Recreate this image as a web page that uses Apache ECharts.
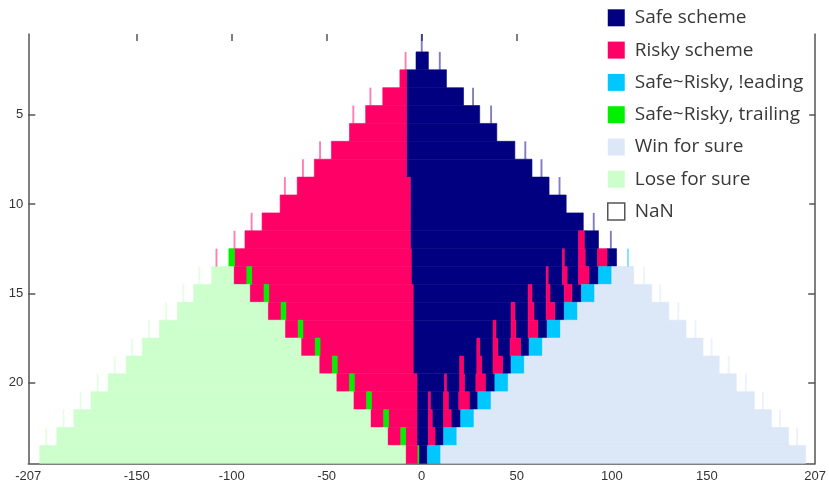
<!DOCTYPE html>
<html><head><meta charset="utf-8">
<script src="https://cdn.jsdelivr.net/npm/echarts@6/dist/echarts.min.js"></script>
<style>html,body{margin:0;padding:0;background:#fff}#c{width:829px;height:489px}</style>
</head><body><div id="c"></div>
<script>
// ---- categories / legend ----
const categories = ['Safe scheme', 'Risky scheme', 'Safe~Risky, !eading', 'Safe~Risky, trailing', 'Win for sure', 'Lose for sure', 'NaN'];
const colors = ['#000080', '#ff0066', '#00c8ff', '#00f000', '#dce8f7', '#ccffcc', '#ffffff'];

// ---- tick labels ----
const xTickLabels = [-207, -150, -100, -50, 0, 50, 100, 150, 207];
const xTickMarks = [-150, -100, -50, 0, 50, 100, 150];
const yTicks = [5, 10, 15, 20];

// ---- cells: [row, xFrom, xTo] ----
const safeSegments = [
  [2, -3, 3.5],
  [3, -8, 13], [4, -8, 22], [5, -8, 30.5], [6, -8, 39.5], [7, -8, 49], [8, -8, 58],
  [9, -6, 67], [10, -6, 76], [11, -6, 85],
  [12, -6, 82.5], [12, 85.5, 93],
  [13, -5.5, 74], [13, 75, 82.5], [13, 86, 92.5], [13, 97.5, 102.5],
  [14, -5.5, 65.5], [14, 66.5, 74], [14, 76.5, 82.5], [14, 88, 93],
  [15, -4.5, 56], [15, 58, 65.5], [15, 67.5, 75], [15, 79, 84],
  [16, -4.5, 47], [16, 49, 56], [16, 59, 65.5], [16, 70, 75],
  [17, -4.5, 37.5], [17, 39, 47], [17, 49.5, 56], [17, 61, 66],
  [18, -4.5, 29], [18, 30.5, 37.5], [18, 40, 46.5], [18, 52, 56.5],
  [19, -4.5, 20], [19, 22, 29], [19, 31.5, 37.5], [19, 42.5, 47],
  [20, -2.5, 12], [20, 13, 20], [20, 22.5, 28.5], [20, 33.5, 38.5],
  [21, -2.5, 3.5], [21, 4.5, 11.5], [21, 14, 19.5], [21, 25, 29.5],
  [22, -2.5, 3.5], [22, 5.5, 11.5], [22, 15.5, 20.5],
  [23, -2.5, 3.5], [23, 7, 11.5],
  [24, -1.5, 3]
];
const riskySegments = [
  [3, -11.5, -8], [4, -20.5, -8], [5, -29.5, -8], [6, -38, -8], [7, -47.5, -8], [8, -56.5, -8],
  [9, -65.5, -6], [10, -74.5, -6], [11, -84, -6], [12, -93, -6], [12, 82.5, 85.5],
  [13, -98.5, -5.5], [13, 74, 75], [13, 82.5, 86], [13, 92.5, 97.5],
  [14, -99, -92], [14, -89.5, -5.5], [14, 65.5, 66.5], [14, 74, 76.5], [14, 82.5, 88],
  [15, -90.5, -83], [15, -80.5, -4.5], [15, 56, 58], [15, 65.5, 67.5], [15, 75, 79],
  [16, -81, -74], [16, -71.5, -4.5], [16, 47, 49], [16, 56, 59], [16, 65.5, 70],
  [17, -72, -65], [17, -62.5, -4.5], [17, 37.5, 39], [17, 47, 49.5], [17, 56, 61],
  [18, -63.5, -56], [18, -53.5, -4.5], [18, 29, 30.5], [18, 37.5, 40], [18, 46.5, 52],
  [19, -54, -47], [19, -44.5, -4.5], [19, 20, 22], [19, 29, 31.5], [19, 37.5, 42.5],
  [20, -45, -38], [20, -35.5, -2.5], [20, 12, 13], [20, 20, 22.5], [20, 28.5, 33.5],
  [21, -36, -29], [21, -26.5, -2.5], [21, 3.5, 4.5], [21, 11.5, 14], [21, 19.5, 25],
  [22, -27, -20], [22, -17.5, -2.5], [22, 3.5, 5.5], [22, 11.5, 15.5],
  [23, -18, -11], [23, -8.5, -2.5], [23, 3.5, 7],
  [24, -8.5, -2]
];
const leadingSegments = [
  [14, 93, 100], [15, 84, 91], [16, 75, 82], [17, 66, 73], [18, 56.5, 63.5], [19, 47, 54],
  [20, 38.5, 45.5], [21, 29.5, 36.5], [22, 20.5, 27.5], [23, 11.5, 18.5], [24, 3, 10]
];
const trailingSegments = [
  [13, -101.5, -98.5], [14, -92, -89.5], [15, -83, -80.5], [16, -74, -71.5], [17, -65, -62.5],
  [18, -56, -53.5], [19, -47, -44.5], [20, -38, -35.5], [21, -29, -26.5], [22, -20, -17.5],
  [23, -11, -8.5], [24, -2, -1.5]
];
const winSegments = [
  [14, 100, 111.5], [15, 91, 121], [16, 82, 130], [17, 73, 139], [18, 63.5, 148], [19, 54, 156.5],
  [20, 45.5, 165.5], [21, 36.5, 175], [22, 27.5, 184], [23, 18.5, 193], [24, 10, 202]
];
const loseSegments = [
  [14, -110.5, -99], [15, -120, -90.5], [16, -128.5, -81], [17, -138, -72], [18, -147, -63.5],
  [19, -155.5, -54], [20, -165, -45], [21, -174, -36], [22, -183, -27], [23, -192, -18], [24, -201, -8.5]
];

// ---- single-column cells: [row, x] ----
const safeThin = [[1, 0], [2, 9.5], [4, 27], [5, 36.5], [7, 54.5], [8, 63], [9, 72.5], [11, 90.5], [12, 99.5]];
const riskyThin = [[2, -8.5], [4, -27], [5, -36], [7, -53.5], [8, -62.5], [9, -72], [11, -89.5], [12, -98.5], [13, -108]];
const leadingThin = [[13, 108.5]];
const winThin = [[14, 117], [15, 125.5], [16, 135], [17, 144], [18, 152.5], [19, 161.5], [20, 170.5], [21, 179.5], [22, 188.5], [23, 197.5]];
const loseThin = [[14, -117], [15, -125.5], [16, -134.5], [17, -143.5], [18, -152.5], [19, -161.5], [20, -170.5], [21, -179.5], [22, -188.5], [23, -197.5]];

function renderSeg(params, api) {
  const row = api.value(0);
  const a = api.coord([api.value(1), row]);
  const b = api.coord([api.value(2), row]);
  const h = api.size([0, 1])[1];
  const c = api.visual('color');
  return { type: 'rect', shape: { x: a[0], y: a[1] - h / 2, width: b[0] - a[0], height: h },
    style: { fill: c, stroke: c, lineWidth: 0.6 } };
}
function renderThin(params, api) {
  const row = api.value(0);
  const x = api.value(1);
  const a = api.coord([x - 0.5, row]);
  const b = api.coord([x + 0.5, row]);
  const h = api.size([0, 1])[1];
  const c = api.visual('color');
  return { type: 'rect', shape: { x: a[0], y: a[1] - h / 2, width: b[0] - a[0], height: h },
    style: { fill: c, opacity: 0.5 } };
}

const segSets = [safeSegments, riskySegments, leadingSegments, trailingSegments, winSegments, loseSegments, []];
const series = categories.map((name, i) => ({
  name, type: 'custom', renderItem: renderSeg, data: segSets[i],
  encode: { x: [1, 2], y: 0 }, itemStyle: { color: colors[i] }, silent: true
}));
const thinSets = [[safeThin, 0], [riskyThin, 1], [leadingThin, 2], [winThin, 4], [loseThin, 5]];
thinSets.forEach(([d, i]) => series.push({
  name: categories[i] + ' (edge)', type: 'custom', renderItem: renderThin, data: d,
  encode: { x: 1, y: 0 }, itemStyle: { color: colors[i] }, silent: true
}));

const axisColor = '#555';
const lbl = { color: '#333', fontSize: 13, fontFamily: 'Liberation Sans' };
const option = {
  animation: false,
  backgroundColor: '#fff',
  grid: { left: 28.3, right: 7.3, top: 34, bottom: 25.7, containLabel: false },
  xAxis: [
    { type: 'value', min: -207, max: 207, position: 'bottom',
      axisLine: { show: true, onZero: false, lineStyle: { color: axisColor, width: 1.5 } },
      axisTick: { show: true, inside: true, length: 7, customValues: xTickMarks, lineStyle: { color: axisColor, width: 1.5 } },
      axisLabel: Object.assign({ customValues: xTickLabels, margin: 7 }, lbl),
      splitLine: { show: false } },
    { type: 'value', min: -207, max: 207, position: 'top',
      axisLine: { show: false, onZero: false },
      axisTick: { show: true, inside: true, length: 7, customValues: xTickMarks, lineStyle: { color: axisColor, width: 1.5 } },
      axisLabel: { show: false }, splitLine: { show: false } }
  ],
  yAxis: [
    { type: 'value', inverse: true, min: 0.5, max: 24.5, position: 'left',
      axisLine: { show: true, onZero: false, lineStyle: { color: axisColor, width: 1.5 } },
      axisTick: { show: true, inside: true, length: 7, customValues: yTicks, lineStyle: { color: axisColor, width: 1.5 } },
      axisLabel: Object.assign({ customValues: yTicks, margin: 5 }, lbl),
      splitLine: { show: false } },
    { type: 'value', inverse: true, min: 0.5, max: 24.5, position: 'right',
      axisLine: { show: true, onZero: false, lineStyle: { color: axisColor, width: 1.5 } },
      axisTick: { show: true, inside: true, length: 7, customValues: yTicks, lineStyle: { color: axisColor, width: 1.5 } },
      axisLabel: { show: false }, splitLine: { show: false } }
  ],
  legend: {
    orient: 'vertical', left: 603, top: 4, padding: [4.3, 6, 4, 4],
    backgroundColor: '#fff', itemWidth: 17, itemHeight: 17, itemGap: 13.3,
    selectedMode: false,
    textStyle: { fontSize: 19, fontFamily: 'Open Sans', color: '#383838', lineHeight: 17, padding: [0, 0, 0, 5] },
    data: categories.map((name, i) => ({
      name, icon: 'rect',
      itemStyle: i === 6 ? { color: '#fff', borderColor: '#555', borderWidth: 1.5 } : { color: colors[i], borderWidth: 0 }
    }))
  },
  series
};
const chart = echarts.init(document.getElementById('c'), null, { renderer: 'canvas' });
chart.setOption(option);
</script>
</body></html>
